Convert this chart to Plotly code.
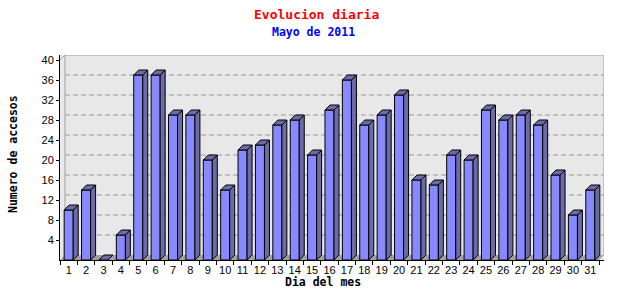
import plotly.graph_objects as go

# ---- data ----
days = list(range(1, 32))
visits = [10, 14, 0, 5, 37, 37, 29, 29, 20, 14, 22, 23, 27, 28, 21, 30,
          36, 27, 29, 33, 16, 15, 21, 20, 30, 28, 29, 27, 17, 9, 14]
y_ticks = [4, 8, 12, 16, 20, 24, 28, 32, 36, 40]
grid_ticks = [4, 8, 12, 16, 20, 24, 28, 32, 36]
title_text = "Evolucion diaria"
subtitle_text = "Mayo de 2011"
x_title = "Dia del mes"
y_title = "Numero de accesos"

# ---- geometry / style ----
W, H = 640, 300
ML, MR, MT, MB = 60, 36, 55, 40
PW, PH = W - ML - MR, H - MT - MB
DEPTH = 5
Y_MAX = 40
n = len(days)
pxx = (PW - DEPTH) / n
dx = DEPTH / pxx
pxy = (PH - DEPTH) / Y_MAX
dy = DEPTH / pxy
BW = 0.52
x_lo, x_hi = 0.5, n + 0.5 + dx
y_lo, y_hi = 0, Y_MAX + dy

FRONT = "#8888ff"
SIDE = "#6b6ba8"
BG = "#e8e8e8"
FLOOR = "#a0a0a0"
BORDER = "#a0a0a0"

def px_to_paper_x(px):
    return (px - ML) / PW

def px_to_paper_y(py):
    return (H - MB - py) / PH

fig = go.Figure()

# front faces
fig.add_trace(go.Bar(x=days, y=visits, width=BW,
                     marker=dict(color=FRONT, line=dict(color="black", width=1)),
                     hoverinfo="skip"))

# side faces
sx, sy = [], []
for d, v in zip(days, visits):
    r = d + BW / 2
    sx += [r, r + dx, r + dx, r, r, None]
    sy += [0, dy, v + dy, v, 0, None]
fig.add_trace(go.Scatter(x=sx, y=sy, mode="lines", fill="toself", fillcolor=SIDE,
                         line=dict(color="black", width=1), hoverinfo="skip"))

# top faces
tx, ty = [], []
for d, v in zip(days, visits):
    l, r = d - BW / 2, d + BW / 2
    tx += [l, l + dx, r + dx, r, l, None]
    ty += [v, v + dy, v + dy, v, v, None]
fig.add_trace(go.Scatter(x=tx, y=ty, mode="lines", fill="toself", fillcolor=SIDE,
                         line=dict(color="black", width=1), hoverinfo="skip"))

shapes = []
# floor
shapes.append(dict(type="path", xref="x", yref="y", layer="below",
                   path=f"M {x_lo},0 L {x_lo + dx},{dy} L {x_hi},{dy} L {x_hi - dx},0 Z",
                   fillcolor=FLOOR, line=dict(width=0)))
# back-plane grid lines
for t in grid_ticks:
    shapes.append(dict(type="line", xref="x", yref="y", layer="below",
                       x0=x_lo + dx, x1=x_hi, y0=t + dy, y1=t + dy,
                       line=dict(color="#999999", width=1, dash="5px,3px")))
# back-plane border
shapes.append(dict(type="line", xref="x", yref="y", layer="below",
                   x0=x_lo + dx, x1=x_hi, y0=y_hi, y1=y_hi,
                   line=dict(color=BORDER, width=1)))
shapes.append(dict(type="line", xref="x", yref="y", layer="below",
                   x0=x_lo + dx, x1=x_lo + dx, y0=dy, y1=y_hi,
                   line=dict(color=BORDER, width=1)))
shapes.append(dict(type="line", xref="x", yref="y", layer="below",
                   x0=x_hi, x1=x_hi, y0=dy, y1=y_hi,
                   line=dict(color=BORDER, width=1)))
shapes.append(dict(type="line", xref="x", yref="y", layer="below",
                   x0=x_lo, x1=x_lo + dx, y0=Y_MAX, y1=y_hi,
                   line=dict(color=BORDER, width=1)))

annotations = [
    dict(text=title_text, x=px_to_paper_x(316), y=px_to_paper_y(14), xref="paper", yref="paper",
         showarrow=False, xanchor="center", yanchor="middle",
         font=dict(family="DejaVu Sans Mono", size=13, color="#ff0000", weight="bold")),
    dict(text=subtitle_text, x=px_to_paper_x(313), y=px_to_paper_y(32), xref="paper", yref="paper",
         showarrow=False, xanchor="center", yanchor="middle",
         font=dict(family="DejaVu Sans Mono", size=11.5, color="#0000ff", weight="bold")),
    dict(text=x_title, x=px_to_paper_x(323), y=px_to_paper_y(282), xref="paper", yref="paper",
         showarrow=False, xanchor="center", yanchor="middle",
         font=dict(family="DejaVu Sans Mono", size=11.5, color="black", weight="bold")),
    dict(text=y_title, x=px_to_paper_x(13), y=px_to_paper_y(154), xref="paper", yref="paper",
         showarrow=False, xanchor="center", yanchor="middle", textangle=-90,
         font=dict(family="DejaVu Sans Mono", size=11.5, color="black", weight="bold")),
]

fig.update_layout(
    width=W, height=H,
    margin=dict(l=ML, r=MR, t=MT, b=MB, pad=0),
    paper_bgcolor="white", plot_bgcolor=BG,
    showlegend=False, hovermode=False,
    shapes=shapes, annotations=annotations,
    xaxis=dict(range=[x_lo, x_hi], tickmode="array", tickvals=days,
               ticktext=[str(d) for d in days], ticks="", showgrid=False,
               zeroline=False, showline=True, linecolor="black", linewidth=1,
               tickfont=dict(family="Liberation Sans", size=11, color="black"),
               minor=dict(tickmode="array", tickvals=[d + 0.5 for d in [0] + days],
                          ticks="outside", ticklen=4, tickcolor="black", showgrid=False),
               fixedrange=True),
    yaxis=dict(range=[y_lo, y_hi], tickmode="array", tickvals=y_ticks,
               ticks="outside", ticklen=3, tickcolor="black", showgrid=False,
               zeroline=False, showline=True, linecolor="black", linewidth=1,
               tickfont=dict(family="Liberation Sans", size=11, color="black"),
               fixedrange=True),
)

fig.write_html("out.html", config={"displayModeBar": False})
